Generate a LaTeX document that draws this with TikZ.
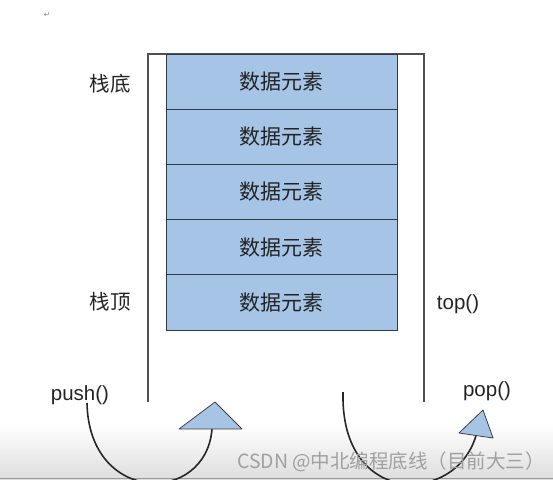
\documentclass[tikz,border=0pt]{standalone}
\usepackage{fontspec}
\setmainfont{Liberation Sans}
\newfontfamily\cjk{Noto Sans CJK SC}
\newfontfamily\dejavu{DejaVu Sans}
\definecolor{cellblue}{RGB}{166,197,230}
\definecolor{cellline}{RGB}{45,58,72}
\definecolor{wallgray}{RGB}{80,80,80}
\definecolor{txt}{RGB}{35,35,35}
\definecolor{wm}{RGB}{160,160,160}
\begin{document}
\begin{tikzpicture}[x=1pt,y=-1pt,
  cell/.style={draw=cellline,line width=1pt,fill=cellblue,minimum width=231pt,minimum height=55.2pt,inner sep=0pt,outer sep=0pt,font=\cjk\fontsize{21}{21}\selectfont,text=txt},
  cjklabel/.style={font=\cjk\fontsize{20.5}{20.5}\selectfont,text=txt,inner sep=0pt},
  oplabel/.style={font=\fontsize{20.5}{20.5}\selectfont,text=txt,inner sep=0pt},
  wall/.style={draw=wallgray,line width=1.2pt},
  tri/.style={draw=black!75,line width=0.8pt,fill=cellblue,line join=round},
  arc/.style={draw=black!85,line width=1.6pt}]
\useasboundingbox (0,0) rectangle (553,479);
% bottom band
\fill[top color=white,bottom color=black!13] (0,424) rectangle (553,479);
\draw[black!40,line width=1pt] (0,478.5) -- (553,478.5);
% paragraph mark
\node[font=\dejavu\fontsize{8}{8}\selectfont,text=black!45,inner sep=0pt] (mark) at (47,15) {↵};
% container
\coordinate (wl) at (148,402);
\coordinate (wtl) at (148,54);
\coordinate (wtr) at (424,54);
\coordinate (wr) at (424,402);
\draw[wall] (wl) -- (wtl) -- (wtr) -- (wr);
% cells
\node[cell] (c1) at (281.5,81.6) {数据元素};
\node[cell] (c2) at (281.5,136.8) {数据元素};
\node[cell] (c3) at (281.5,192.0) {数据元素};
\node[cell] (c4) at (281.5,247.2) {数据元素};
\node[cell] (c5) at (281.5,302.4) {数据元素};
% labels
\node[cjklabel] (bottom) at (110,84) {栈底};
\node[cjklabel] (topl) at (110,302) {栈顶};
\node[oplabel] (top) at (458,304) {top()};
\node[oplabel] (push) at (80,395) {push()};
\node[oplabel] (pop) at (487,391) {pop()};
% push triangle and arc
\coordinate (pa) at (215,402);
\coordinate (pb1) at (179,429);
\coordinate (pb2) at (242,429);
\coordinate (pushend) at (212,429);
\coordinate (pushstart) at (87,403);
\draw[arc] (pushstart) .. controls (89,505) and (206,505) .. (pushend);
\draw[tri] (pa) -- (pb1) -- (pb2) -- cycle;
% pop triangle and arc
\coordinate (qa) at (483,410);
\coordinate (qb1) at (459,433);
\coordinate (qb2) at (493,438);
\coordinate (popend) at (476,435.5);
\coordinate (popstart) at (343,392);
\draw[arc] (popstart) .. controls (340,508) and (456,505) .. (popend);
\draw[tri] (qa) -- (qb1) -- (qb2) -- cycle;
% watermark
\node[font=\cjk\fontsize{19.5}{19.5}\selectfont,text=wm,inner sep=0pt] (wmk) at (391,462) {CSDN @中北编程底线（目前大三）};
\end{tikzpicture}
\end{document}
